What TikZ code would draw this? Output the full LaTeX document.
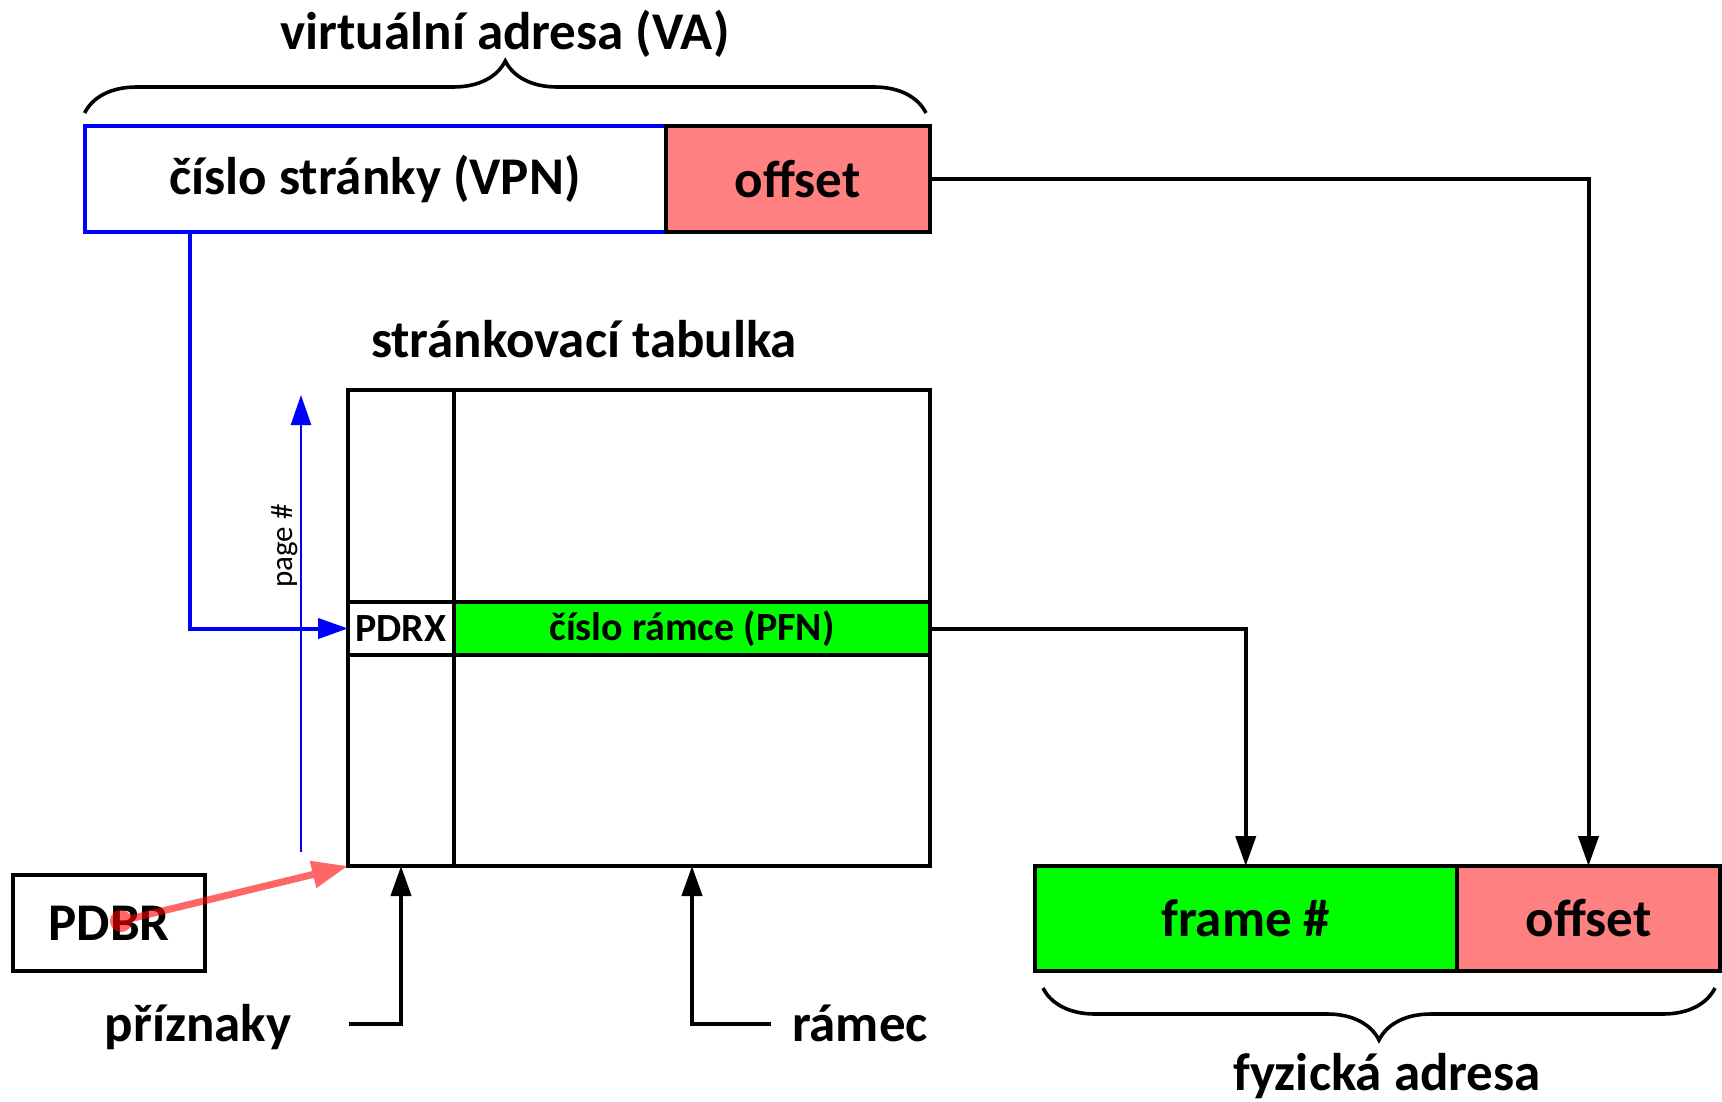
\documentclass[tikz,border=0pt]{standalone}
\usepackage{fontspec}
\setmainfont{Carlito}
\usetikzlibrary{arrows.meta,decorations.pathreplacing}
\definecolor{salmon}{HTML}{FF8080}
\definecolor{lime}{HTML}{00FF00}
\definecolor{vblue}{HTML}{0000FF}
\begin{document}
\begin{tikzpicture}[x=1pt,y=-1pt,
  cell/.style={draw=black, line width=4pt, inner sep=0pt, outer sep=0pt, font=\bfseries\fontsize{53}{60}\selectfont},
  small/.style={font=\bfseries\fontsize{40}{46}\selectfont},
  big/.style={font=\bfseries\fontsize{53}{60}\selectfont},
  blk/.style={draw=black, line width=4pt, -{Triangle[length=30pt,width=20pt]}},
  blu/.style={draw=vblue, line width=4pt, -{Triangle[length=30pt,width=20pt]}},
  brc/.style={draw=black, line width=3.6pt, decorate, decoration={brace, amplitude=52pt}}]
\useasboundingbox (0,0) rectangle (1722,1102);
% virtual address
\node[cell, draw=vblue, minimum width=581pt, minimum height=106pt] (vpn) at (375,179) {číslo stránky (VPN)};
\node[cell, fill=salmon, minimum width=264.5pt, minimum height=106pt] (offV) at (797.75,179) {offset};
\node[big, anchor=base] (vatitle) at (505,50) {virtuální adresa (VA)};
\draw[brc] (84.6,113) -- (926,113);
% page table
\node[big, anchor=base] (pttitle) at (584,357) {stránkovací tabulka};
\node[cell, minimum width=106pt, minimum height=212pt] (flagsTop) at (401,496) {};
\node[cell, minimum width=476pt, minimum height=212pt] (frameTop) at (692,496) {};
\node[cell, small, minimum width=106pt, minimum height=53pt] (pdrx) at (401,628.5) {PDRX};
\node[cell, small, fill=lime, minimum width=476pt, minimum height=53pt] (pfn) at (692,628.5) {číslo rámce (PFN)};
\node[cell, minimum width=106pt, minimum height=211pt] (flagsBot) at (401,760.5) {};
\node[cell, minimum width=476pt, minimum height=211pt] (frameBot) at (692,760.5) {};
% physical address
\node[cell, fill=lime, minimum width=422.5pt, minimum height=105pt] (frameP) at (1245.75,918.5) {frame \#};
\node[cell, fill=salmon, minimum width=263pt, minimum height=105pt] (offP) at (1588.5,918.5) {offset};
\draw[brc] (1715,988) -- (1043,988);
\node[big, anchor=base] (fyz) at (1387,1090) {fyzická adresa};
% PDBR
\node[cell, minimum width=192pt, minimum height=96pt] (pdbr) at (109,923) {PDBR};
% labels
\node[big, anchor=base] (prz) at (198,1041) {příznaky};
\node[big, anchor=base] (ram) at (860,1041) {rámec};
\node[rotate=90, font=\fontsize{31}{36}\selectfont] (pglab) at (285,546) {page \#};
% connectors
\draw[blk] (offV.east) -| (offP.north);
\draw[blk] (pfn.east) -| (frameP.north);
\coordinate (przStart) at (349,1024);
\coordinate (ramStart) at (771,1024);
\draw[blk] (przStart) -| (flagsBot.south);
\draw[blk] (ramStart) -| (frameBot.south);
\coordinate (vpnDrop) at (190,232);
\draw[blu] (vpnDrop) |- (pdrx.west);
\coordinate (pgBot) at (301,852);
\coordinate (pgTop) at (301,395);
\draw[blu, line width=2.5pt] (pgBot) -- (pgTop);
\coordinate (pdbrDot) at (121,921);
\begin{scope}[transparency group, opacity=0.6]
\fill[red] (pdbrDot) circle (11pt);
\draw[red, line width=7pt, -{Triangle[length=36pt,width=26pt]}] (pdbrDot) -- (flagsBot.south west);
\end{scope}
\end{tikzpicture}
\end{document}
